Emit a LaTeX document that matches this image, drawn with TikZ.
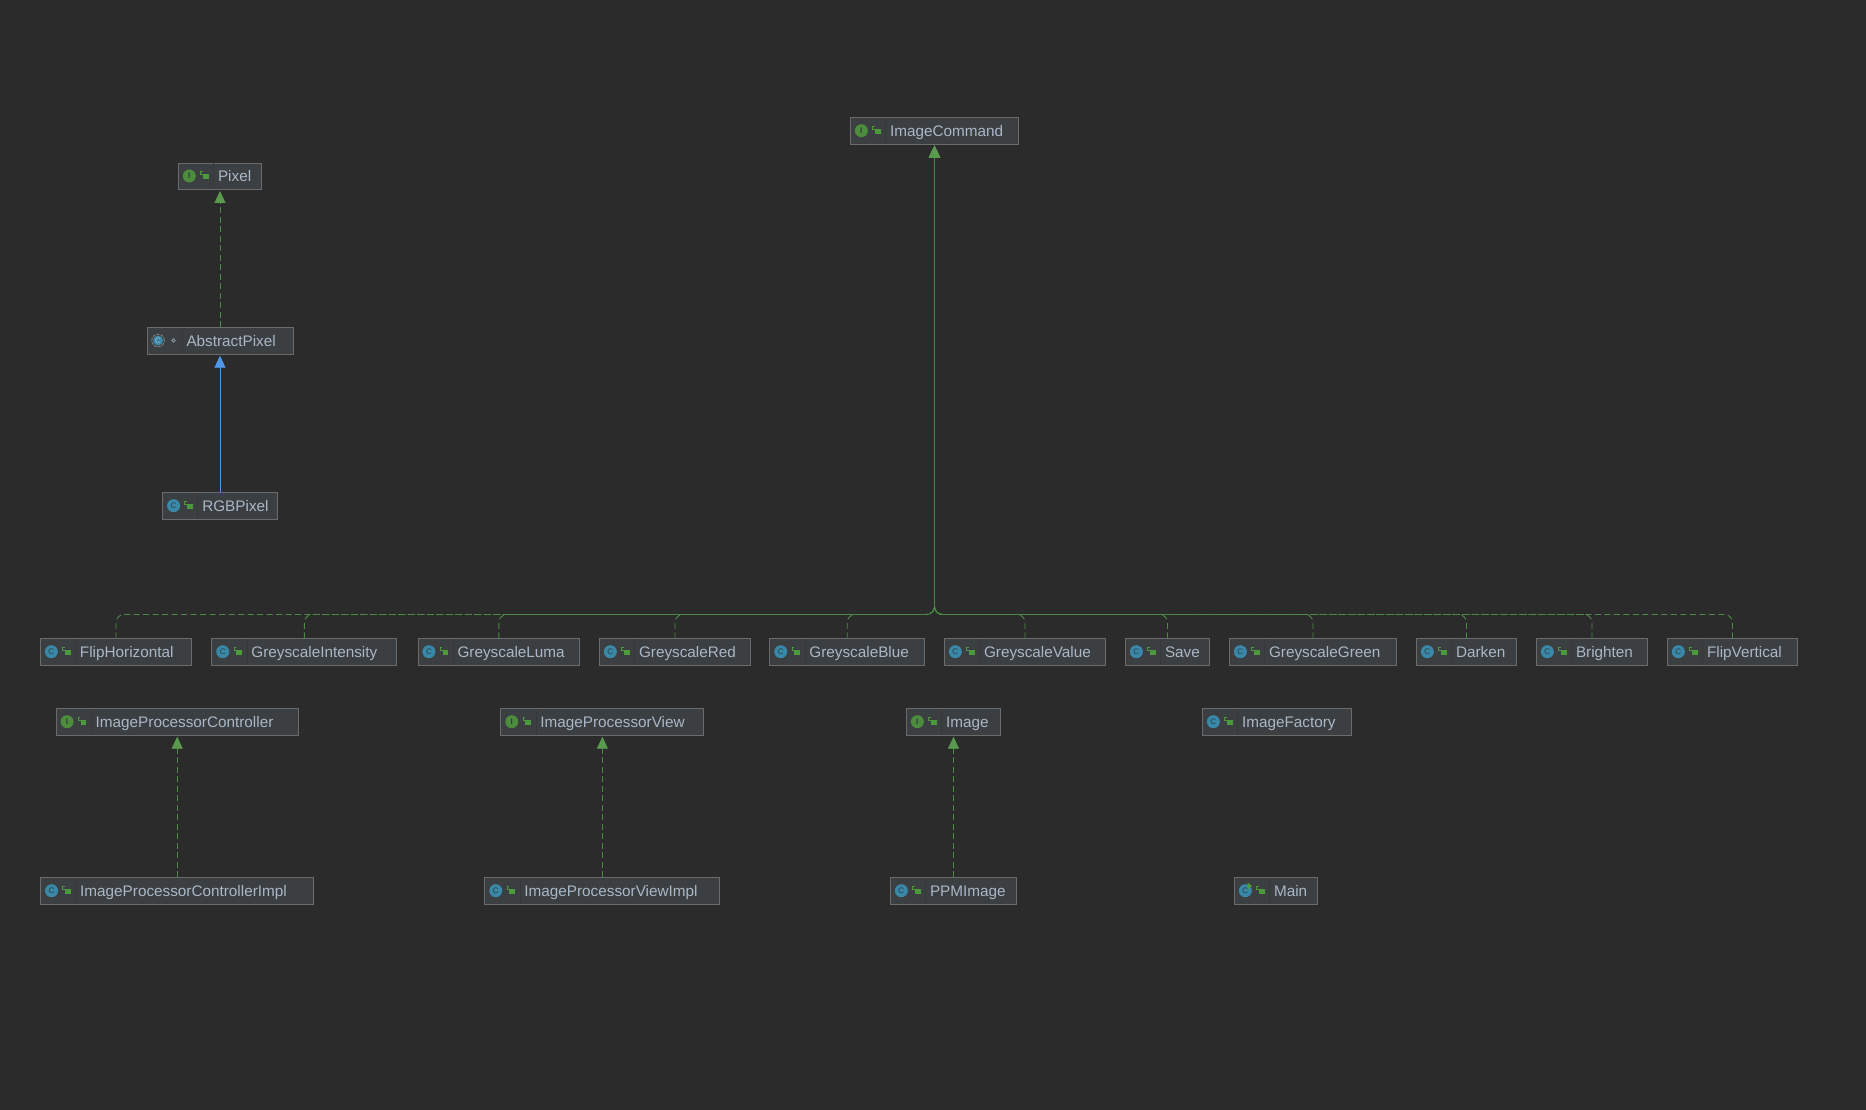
\documentclass[tikz,border=0pt]{standalone}
\usepackage{fontspec}
\setmainfont{Liberation Sans}
\usetikzlibrary{arrows.meta}
\definecolor{bg}{HTML}{2B2B2B}
\definecolor{boxfill}{HTML}{3C3F41}
\definecolor{boxline}{HTML}{6B6B6B}
\definecolor{boxtext}{HTML}{A9B7C6}
\definecolor{sepline}{HTML}{363839}
\definecolor{implgreen}{HTML}{4B8A43}
\definecolor{tipgreen}{HTML}{5A9A4E}
\definecolor{extblue}{HTML}{4F97E8}
\definecolor{clsblue}{HTML}{3A88A8}
\definecolor{ifgreen}{HTML}{4C8C3C}
\definecolor{lockgreen}{HTML}{4C9A3C}
\definecolor{icontext}{HTML}{2B3A40}
\tikzset{
  cbox/.style={draw=boxline,fill=boxfill,line width=0.9pt,minimum height=26.5pt,inner sep=0pt,
    text=boxtext,font=\fontsize{15.3}{18}\selectfont,align=left},
  impl/.style={draw=implgreen,line width=0.9pt,dash pattern=on 6pt off 3.5pt,rounded corners=8pt},
  ext/.style={draw=extblue,line width=0.9pt},
  gtip/.style={-{Triangle[length=12pt,width=11pt,color=tipgreen]},shorten >=1pt},
  btip/.style={-{Triangle[length=12pt,width=11pt,color=extblue]},shorten >=1pt},
  iconletter/.style={inner sep=0pt,text=icontext,font=\fontsize{8}{8}\selectfont}
}
% #1 name, #2 centre x, #3 outer width, #4 centre y, #5 text
\newcommand\umlbox[5]{%
  \pgfmathsetmacro\innerw{#3-1}%
  \node[cbox,text width=\innerw pt] (#1) at (#2,#4) {\rule[-3.4pt]{0pt}{18pt}\hspace*{39.5pt}#5};
  \draw[sepline,line width=0.8pt] ([xshift=35.5pt,yshift=13pt]#1.west) -- ([xshift=35.5pt,yshift=-13pt]#1.west);
  \fill[lockgreen] ([xshift=25pt,yshift=-3pt]#1.west) rectangle ([xshift=30.5pt,yshift=2.2pt]#1.west);
  \draw[lockgreen,line width=0.9pt] ([xshift=25pt,yshift=2pt]#1.west) -- ([xshift=22.5pt,yshift=2pt]#1.west) -- ([xshift=22.5pt,yshift=4.6pt]#1.west) -- ([xshift=24.5pt,yshift=4.6pt]#1.west);
}
\newcommand\clsicon[1]{%
  \fill[clsblue] ([xshift=11.3pt,yshift=0.3pt]#1.west) circle (6.5pt);
  \node[iconletter] at ([xshift=11.3pt,yshift=0.3pt]#1.west) {C};
}
\newcommand\ificon[1]{%
  \fill[ifgreen] ([xshift=11.3pt,yshift=0.3pt]#1.west) circle (6.5pt);
  \node[iconletter,font=\fontsize{8}{8}\selectfont\bfseries] at ([xshift=11.3pt,yshift=0.3pt]#1.west) {I};
}
\begin{document}
\begin{tikzpicture}[x=1pt,y=-1pt]
\useasboundingbox (0,0) rectangle (1866,1110);
\fill[bg] (0,0) rectangle (1866,1110);

% top hierarchy
\umlbox{imagecommand}{934.5}{169}{131}{ImageCommand}\ificon{imagecommand}
\umlbox{pixel}{220}{84}{176.3}{Pixel}\ificon{pixel}
\umlbox{abstractpixel}{220}{147}{341}{AbstractPixel}
\umlbox{rgbpixel}{220}{115.5}{506}{RGBPixel}\clsicon{rgbpixel}

% abstract icon
\fill[clsblue] ([xshift=11.5pt,yshift=0.5pt]abstractpixel.west) circle (5pt);
\draw[boxtext!55!boxfill,line width=0.9pt,dash pattern=on 3pt off 1.2pt] ([xshift=11.5pt,yshift=0.5pt]abstractpixel.west) circle (6.3pt);
\node[iconletter,text=boxtext] at ([xshift=11.5pt,yshift=0.5pt]abstractpixel.west) {C};
\fill[boxfill] ([xshift=21pt,yshift=-3.5pt]abstractpixel.west) rectangle ([xshift=32pt,yshift=5.5pt]abstractpixel.west);
\draw[boxtext!70!boxfill,line width=0.9pt] ([xshift=27pt,yshift=0.5pt]abstractpixel.west) circle (1.8pt);

% command row
\umlbox{fliph}{116}{152}{652}{FlipHorizontal}\clsicon{fliph}
\umlbox{gintensity}{304.4}{186}{652}{GreyscaleIntensity}\clsicon{gintensity}
\umlbox{gluma}{498.8}{162.5}{652}{GreyscaleLuma}\clsicon{gluma}
\umlbox{gred}{675}{152}{652}{GreyscaleRed}\clsicon{gred}
\umlbox{gblue}{847.2}{155.6}{652}{GreyscaleBlue}\clsicon{gblue}
\umlbox{gvalue}{1025}{162}{652}{GreyscaleValue}\clsicon{gvalue}
\umlbox{save}{1167.5}{85}{652}{Save}\clsicon{save}
\umlbox{ggreen}{1313}{168}{652}{GreyscaleGreen}\clsicon{ggreen}
\umlbox{darken}{1466.5}{101}{652}{Darken}\clsicon{darken}
\umlbox{brighten}{1592}{112}{652}{Brighten}\clsicon{brighten}
\umlbox{flipv}{1732.5}{131}{652}{FlipVertical}\clsicon{flipv}

% lower rows
\umlbox{ipc}{177.2}{243}{722}{ImageProcessorController}\ificon{ipc}
\umlbox{ipv}{602.4}{204}{722}{ImageProcessorView}\ificon{ipv}
\umlbox{image}{953.5}{95}{722}{Image}\ificon{image}
\umlbox{factory}{1277}{150}{722}{ImageFactory}\clsicon{factory}
\umlbox{ipci}{177.2}{274}{891}{ImageProcessorControllerImpl}\clsicon{ipci}
\umlbox{ipvi}{602.4}{236}{891}{ImageProcessorViewImpl}\clsicon{ipvi}
\umlbox{ppm}{953.5}{127}{891}{PPMImage}\clsicon{ppm}
\umlbox{main}{1276}{84}{891}{Main}\clsicon{main}
\fill[lockgreen] ([xshift=13.5pt,yshift=8.5pt]main.west) -- ([xshift=18pt,yshift=5pt]main.west) -- ([xshift=13.5pt,yshift=1.5pt]main.west) -- cycle;

% connectors
\coordinate (bus) at (934.5,614.5);
\foreach \c in {fliph,gintensity,gluma,gred,gblue,gvalue,save,ggreen,darken,brighten,flipv}{
  \draw[impl,gtip] (\c.north) -- (\c.north |- bus) -- (bus) -- (imagecommand.south);
}
\draw[impl,gtip] (abstractpixel.north) -- (pixel.south);
\draw[ext,btip] (rgbpixel.north) -- (abstractpixel.south);
\draw[impl,gtip] (ipci.north) -- (ipc.south);
\draw[impl,gtip] (ipvi.north) -- (ipv.south);
\draw[impl,gtip] (ppm.north) -- (image.south);
\end{tikzpicture}
\end{document}
